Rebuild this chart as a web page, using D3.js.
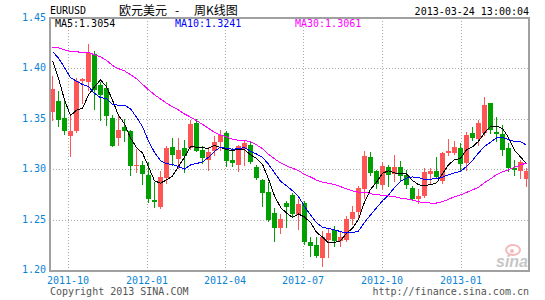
<html>
<head>
<meta charset="utf-8">
<style>
    body { margin: 0; background: #fff; }
    text { font-family: "DejaVu Sans Mono", monospace; font-size: 10px; }
    .cjk { font-family: "Noto Sans CJK SC", sans-serif; font-size: 12px; }
</style>
<script src="https://cdn.jsdelivr.net/npm/d3@7/dist/d3.min.js"></script>
</head>
<body>
<svg id="chart"></svg>
<script>
// weekly EURUSD candles, 2011-09-12 .. 2013-03-18
let opens = [1.3566,1.3674,1.3507,1.3329,1.3375,1.3875,1.3862,1.4138,1.3836,1.3803,
    1.3507,1.3309,1.3418,1.3382,1.3040,1.3046,1.2947,1.2698,1.2628,1.2915,
    1.3220,1.3105,1.3211,1.3211,1.3457,1.3188,1.3096,1.3178,1.3267,1.3359,
    1.3096,1.3046,1.3204,1.3243,1.3023,1.2888,1.2777,1.2569,1.2421,1.2661,
    1.2740,1.2546,1.2668,1.2273,1.2250,1.2119,1.2296,1.2395,1.2283,1.2296,
    1.2504,1.2576,1.2800,1.3118,1.2980,1.2842,1.3023,1.2954,1.3023,1.2941,
    1.2816,1.2701,1.2734,1.2957,1.2980,1.2882,1.3161,1.3161,1.3211,1.3063,
    1.3359,1.3303,1.3359,1.3655,1.3368,1.3349,1.3211,1.3013,1.2987,1.2898]
let highs = [1.3928,1.3776,1.3704,1.3540,1.3908,1.3908,1.4247,1.4171,1.3868,1.3868,
    1.3540,1.3546,1.3497,1.3392,1.3204,1.3079,1.3072,1.2875,1.2980,1.3234,
    1.3309,1.3309,1.3293,1.3490,1.3497,1.3227,1.3217,1.3326,1.3392,1.3375,
    1.3211,1.3243,1.3276,1.3276,1.3046,1.2905,1.2875,1.2619,1.2553,1.2684,
    1.2767,1.2701,1.2684,1.2332,1.2323,1.2388,1.2405,1.2438,1.2388,1.2536,
    1.2635,1.2832,1.3178,1.3168,1.2997,1.3072,1.3046,1.3145,1.3079,1.2997,
    1.2832,1.2800,1.3007,1.3007,1.3118,1.3168,1.3303,1.3276,1.3260,1.3368,
    1.3415,1.3490,1.3714,1.3661,1.3513,1.3434,1.3260,1.3095,1.3095,1.3013]
let lows = [1.3490,1.3424,1.3349,1.3135,1.3368,1.3655,1.3786,1.3599,1.3490,1.3441,
    1.3227,1.3243,1.3276,1.2941,1.2974,1.2849,1.2678,1.2625,1.2619,1.2865,
    1.3046,1.3013,1.2974,1.3204,1.3178,1.3063,1.2997,1.3145,1.3194,1.3030,
    1.3030,1.2987,1.3046,1.3063,1.2898,1.2635,1.2487,1.2290,1.2372,1.2431,
    1.2536,1.2405,1.2257,1.2142,1.2132,1.2043,1.2125,1.2240,1.2240,1.2283,
    1.2454,1.2520,1.2717,1.2947,1.2816,1.2800,1.2829,1.2882,1.2882,1.2809,
    1.2691,1.2661,1.2727,1.2859,1.2915,1.2865,1.3138,1.3151,1.2980,1.2997,
    1.3293,1.3237,1.3342,1.3359,1.3276,1.3145,1.2980,1.2947,1.2915,1.2832]
let closes = [1.3796,1.3490,1.3382,1.3382,1.3875,1.3891,1.4148,1.3786,1.3737,1.3523,
    1.3234,1.3385,1.3375,1.3036,1.3046,1.2957,1.2707,1.2675,1.2921,1.3211,
    1.3145,1.3188,1.3128,1.3447,1.3184,1.3112,1.3171,1.3270,1.3336,1.3086,
    1.3063,1.3227,1.3260,1.3073,1.2915,1.2767,1.2497,1.2421,1.2510,1.2628,
    1.2559,1.2658,1.2273,1.2237,1.2142,1.2323,1.2372,1.2290,1.2323,1.2510,
    1.2579,1.2816,1.3135,1.2964,1.2849,1.3030,1.2947,1.3023,1.2928,1.2839,
    1.2707,1.2734,1.2974,1.2980,1.2921,1.3161,1.3184,1.3220,1.3056,1.3342,
    1.3309,1.3457,1.3632,1.3392,1.3349,1.3188,1.3007,1.2997,1.3072,1.2987]
// 29 weekly closes before the first candle (estimated, needed for the MA lines)
let priorCloses = [1.371,1.395,1.386,1.399,1.406,1.420,1.443,1.439,1.453,
    1.479,1.430,1.406,1.413,1.428,1.462,1.433,1.416,1.417,1.446,
    1.423,1.412,1.434,1.436,1.425,1.421,1.436,1.446,1.416,1.361]

let firstWeek = new Date(2011, 8, 12)
let lastWeek = new Date(2013, 2, 18)
let weeks = d3.timeMonday.range(firstWeek, d3.timeDay.offset(lastWeek, 1))

let yTicks = [1.45, 1.40, 1.35, 1.30, 1.25, 1.20]
let xTickLabels = ["2011-10", "2012-01", "2012-04", "2012-07", "2012-10", "2013-01"]
let maPeriods = [5, 10, 30]
let maLabels = ["MA5:1.3054", "MA10:1.3241", "MA30:1.3061"]
let maColors = ["#000000", "#0000ff", "#ff00ff"]

let width = 545, height = 300
let plot = { left: 50, right: 529, top: 18, bottom: 270 }

let svg = d3.select("#chart").attr("width", width).attr("height", height)

let xScale = d3.scaleTime().domain([firstWeek, lastWeek]).range([52, 526])
let yScale = d3.scaleLinear().domain([1.20, 1.45]).range([plot.bottom, plot.top])
let cx = i => Math.round(xScale(weeks[i]))
let py = v => Math.round(yScale(v))

// grid
let gridDates = xTickLabels.map(s => d3.timeParse("%Y-%m")(s))
svg.append("g").selectAll("line").data(gridDates).enter().append("line")
    .attr("x1", d => Math.round(xScale(d)) + 0.5).attr("x2", d => Math.round(xScale(d)) + 0.5)
    .attr("y1", plot.top).attr("y2", plot.bottom)
    .attr("stroke", "#aaa").attr("stroke-dasharray", "1,2")
svg.append("g").selectAll("line").data(yTicks.slice(1, -1)).enter().append("line")
    .attr("x1", plot.left).attr("x2", plot.right)
    .attr("y1", d => py(d) + 0.5).attr("y2", d => py(d) + 0.5)
    .attr("stroke", "#aaa").attr("stroke-dasharray", "1,2")

// sina watermark
let logo = svg.append("g").attr("opacity", 0.55)
logo.append("ellipse").attr("cx", 513).attr("cy", 250).attr("rx", 7).attr("ry", 5)
    .attr("fill", "none").attr("stroke", "#f08080").attr("stroke-width", 2)
logo.append("circle").attr("cx", 512).attr("cy", 251).attr("r", 2).attr("fill", "#f08080")
logo.append("text").attr("x", 496).attr("y", 267)
    .style("font-family", "Liberation Sans, sans-serif").style("font-size", "16px")
    .style("font-style", "italic").style("font-weight", "bold")
    .attr("fill", "#999").text("sina")

// candles: red = up, green = down
let idx = d3.range(closes.length)
let color = i => closes[i] >= opens[i] ? "#ff5555" : "#00a000"
let candles = svg.append("g")
candles.selectAll(".wick").data(idx).enter().append("line")
    .attr("x1", i => cx(i) + 0.5).attr("x2", i => cx(i) + 0.5)
    .attr("y1", i => py(highs[i])).attr("y2", i => py(lows[i]) + 1)
    .attr("stroke", color)
candles.selectAll(".body").data(idx).enter().append("rect")
    .attr("x", i => cx(i) - 2).attr("width", 5)
    .attr("y", i => py(Math.max(opens[i], closes[i])))
    .attr("height", i => Math.max(1, py(Math.min(opens[i], closes[i])) - py(Math.max(opens[i], closes[i]))))
    .attr("fill", color)

// moving averages
let allCloses = priorCloses.concat(closes)
let offset = priorCloses.length
maPeriods.forEach((n, k) => {
    let values = idx.map(i => d3.mean(allCloses.slice(i + offset - n + 1, i + offset + 1)))
    let line = d3.line().x((d, i) => cx(i) + 0.5).y(d => yScale(d))
    svg.append("path").attr("d", line(values))
        .attr("fill", "none").attr("stroke", maColors[k]).attr("stroke-width", 1)
        .attr("shape-rendering", "crispEdges")
})

// frame
svg.append("rect").attr("x", plot.left).attr("y", plot.top)
    .attr("width", plot.right - plot.left).attr("height", plot.bottom + 1 - plot.top)
    .attr("fill", "none").attr("stroke", "#a0a0a0").attr("stroke-width", 2)

// axes labels
let axisColor = "#0a84d6"
svg.append("g").selectAll("text").data(yTicks).enter().append("text")
    .attr("x", 46).attr("y", d => py(d) + 3).attr("text-anchor", "end")
    .attr("fill", axisColor).text(d => d.toFixed(2))
svg.append("g").selectAll("text").data(gridDates).enter().append("text")
    .attr("x", d => Math.round(xScale(d))).attr("y", 283.5).attr("text-anchor", "middle")
    .attr("fill", axisColor).text((d, i) => xTickLabels[i])

// legend
svg.append("g").selectAll("text").data(maLabels).enter().append("text")
    .attr("x", (d, i) => 55 + i * 120).attr("y", 27)
    .attr("fill", (d, i) => maColors[i]).text(d => d)

// header and footer
svg.append("text").attr("x", 50).attr("y", 14).attr("fill", "#000").text("EURUSD")
let title = svg.append("text").attr("class", "cjk").attr("y", 15).attr("fill", "#000")
title.append("tspan").attr("x", 119).text("欧元美元")
title.append("tspan").attr("x", 175).text("-")
title.append("tspan").attr("x", 194).text("周K线图")
svg.append("text").attr("x", 529).attr("y", 15).attr("text-anchor", "end")
    .attr("fill", "#000").text("2013-03-24 13:00:04")
svg.append("text").attr("x", 50).attr("y", 295).attr("fill", "#555").text("Copyright 2013 SINA.COM")
svg.append("text").attr("x", 529).attr("y", 295).attr("text-anchor", "end")
    .attr("fill", "#555").text("http://finance.sina.com.cn")
</script>
</body>
</html>
